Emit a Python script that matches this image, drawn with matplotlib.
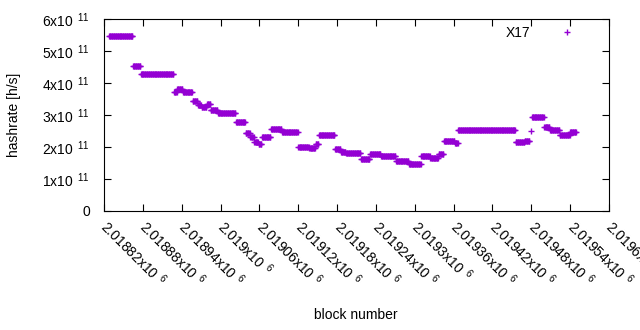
import numpy as np
import matplotlib.pyplot as plt
from matplotlib.ticker import FuncFormatter, FixedLocator

plt.rcParams['font.family'] = ['Liberation Sans', 'DejaVu Sans']
plt.rcParams['mathtext.fontset'] = 'custom'
plt.rcParams['mathtext.rm'] = 'Liberation Sans'
plt.rcParams['font.size'] = 10

seg_start = [2018828, 2018865, 2018877, 2018928, 2018933, 2018942, 2018957, 2018965,
             2018971, 2018979, 2018985, 2018996, 2019024, 2019039, 2019046, 2019052,
             2019059, 2019064, 2019078, 2019095, 2019120, 2019137, 2019147, 2019152,
             2019177, 2019186, 2019194, 2019217, 2019231, 2019248, 2019271, 2019291,
             2019310, 2019324, 2019337, 2019345, 2019362, 2019367, 2019456, 2019470,
             2019481, 2019500, 2019509, 2019524, 2019540]
seg_end = [2018865, 2018877, 2018928, 2018933, 2018942, 2018957, 2018965, 2018971,
           2018979, 2018985, 2018996, 2019024, 2019039, 2019046, 2019052, 2019059,
           2019064, 2019078, 2019095, 2019120, 2019137, 2019147, 2019152, 2019177,
           2019186, 2019194, 2019217, 2019231, 2019248, 2019271, 2019291, 2019310,
           2019324, 2019337, 2019345, 2019362, 2019367, 2019456, 2019470, 2019478,
           2019500, 2019509, 2019524, 2019540, 2019550]
seg_value = [5.47e11, 4.52e11, 4.27e11, 3.71e11, 3.81e11, 3.71e11, 3.45e11, 3.32e11,
             3.24e11, 3.34e11, 3.16e11, 3.05e11, 2.77e11, 2.43e11, 2.30e11, 2.17e11,
             2.08e11, 2.32e11, 2.57e11, 2.46e11, 2.01e11, 1.96e11, 2.10e11, 2.37e11,
             1.94e11, 1.83e11, 1.80e11, 1.62e11, 1.77e11, 1.72e11, 1.55e11, 1.47e11,
             1.72e11, 1.65e11, 1.77e11, 2.18e11, 2.12e11, 2.52e11, 2.15e11, 2.19e11,
             2.94e11, 2.62e11, 2.54e11, 2.36e11, 2.47e11]
# single stray points
extra_block = [2019479]
extra_value = [2.49e11]

blocks = []
rates = []
for s, e, v in zip(seg_start, seg_end, seg_value):
    b = np.arange(s, e)
    blocks.append(b)
    rates.append(np.full(len(b), v))
blocks = np.concatenate(blocks + [np.array(extra_block)])
rates = np.concatenate(rates + [np.array(extra_value)])


def xfmt(v, pos):
    return r'$\mathrm{%gx10}^{\;\;6}$' % (v / 1e6)


def yfmt(v, pos):
    if v == 0:
        return '0'
    return r'$\mathrm{%dx10}^{\;\;11}$' % round(v / 1e11)


fig = plt.figure(figsize=(6.4, 3.3), dpi=100)
ax = fig.add_axes([104 / 640, 1 - 211 / 330, 505 / 640, 192 / 330])
ax.plot(blocks, rates, '+', color='#9400d3', markersize=5, mew=1.0, label='X17')

ax.set_xlim(2018820, 2019600)
ax.set_ylim(0, 6e11)
ax.xaxis.set_major_locator(FixedLocator(np.arange(2018820, 2019601, 60)))
ax.yaxis.set_major_locator(FixedLocator(np.arange(0, 6.01e11, 1e11)))
ax.xaxis.set_major_formatter(FuncFormatter(xfmt))
ax.yaxis.set_major_formatter(FuncFormatter(yfmt))
ax.tick_params(direction='in', length=5, width=0.8, top=True, right=True, colors='black')
ax.tick_params(axis='x', pad=9)
ax.tick_params(axis='y', pad=10)
for lab in ax.get_xticklabels():
    lab.set_rotation(-45)
    lab.set_ha('left')
    lab.set_va('center')
    lab.set_rotation_mode('anchor')
for lab in ax.get_yticklabels():
    lab.set_va('center_baseline')
for sp in ax.spines.values():
    sp.set_linewidth(0.8)

ax.set_xlabel('block number')
ax.set_ylabel('hashrate [h/s]')
ax.xaxis.set_label_coords(0.498, -0.505)
ax.yaxis.set_label_coords(-0.164, 0.5)

ax.legend(loc='upper right', bbox_to_anchor=(0.941, 0.995), borderaxespad=0,
          markerfirst=False, frameon=False, handlelength=1, handletextpad=2.1)

fig.savefig('out.png', dpi=100)
